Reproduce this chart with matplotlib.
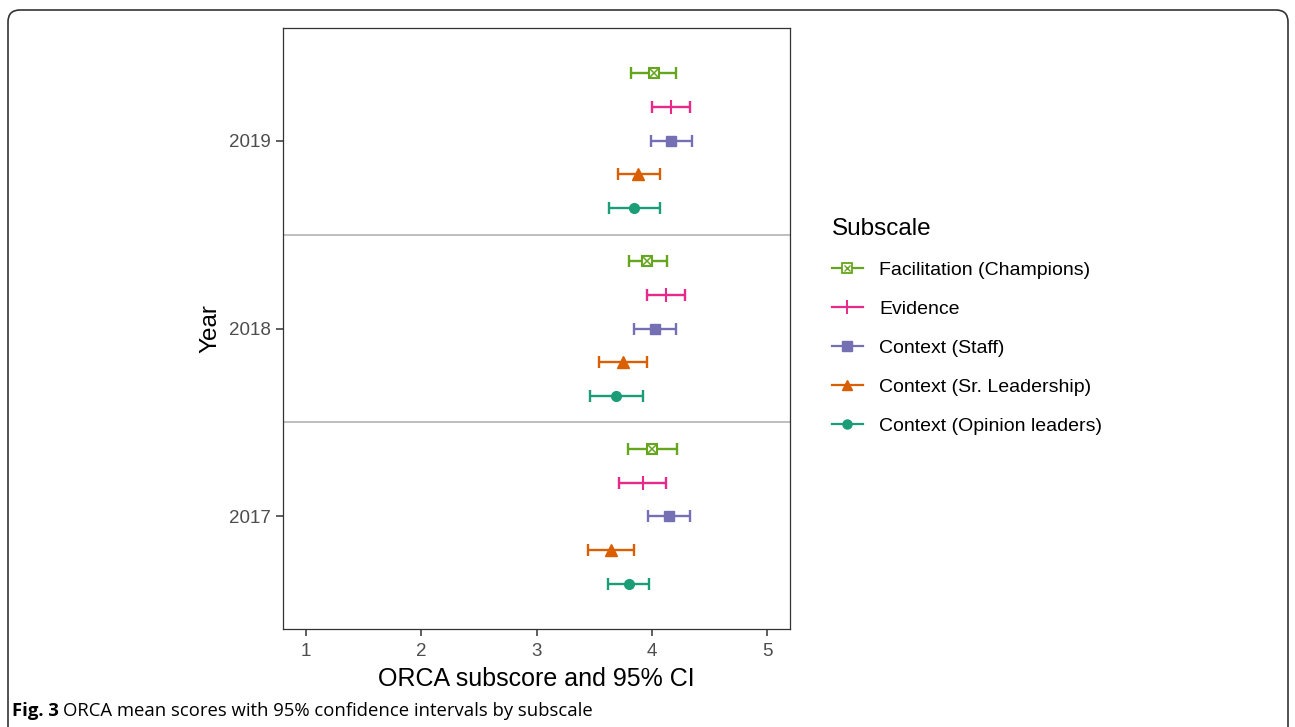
import matplotlib
matplotlib.use("Agg")
import matplotlib.pyplot as plt
import numpy as np
from matplotlib.lines import Line2D
from matplotlib.patches import FancyBboxPatch
from matplotlib.transforms import IdentityTransform

plt.rcParams['font.family'] = ['Liberation Sans', 'DejaVu Sans']

# --- DATA ---
years = [2017, 2018, 2019]
subscales = ["Facilitation (Champions)", "Evidence", "Context (Staff)",
             "Context (Sr. Leadership)", "Context (Opinion leaders)"]
colors = ["#66A61E", "#E7298A", "#7570B3", "#D95F02", "#1B9E77"]

# mean, lower, upper per subscale, ordered by years (2017, 2018, 2019)
facil_mean = [4.00, 3.96, 4.02]
facil_lo = [3.79, 3.80, 3.82]
facil_hi = [4.22, 4.13, 4.21]

evid_mean = [3.92, 4.12, 4.17]
evid_lo = [3.72, 3.955, 4.00]
evid_hi = [4.12, 4.29, 4.33]

staff_mean = [4.15, 4.03, 4.17]
staff_lo = [3.97, 3.85, 3.995]
staff_hi = [4.33, 4.21, 4.35]

sr_mean = [3.645, 3.75, 3.885]
sr_lo = [3.45, 3.54, 3.71]
sr_hi = [3.85, 3.96, 4.07]

opin_mean = [3.80, 3.69, 3.85]
opin_lo = [3.62, 3.46, 3.63]
opin_hi = [3.98, 3.92, 4.07]

means = [facil_mean, evid_mean, staff_mean, sr_mean, opin_mean]
lows = [facil_lo, evid_lo, staff_lo, sr_lo, opin_lo]
highs = [facil_hi, evid_hi, staff_hi, sr_hi, opin_hi]
offsets = [0.36, 0.18, 0.0, -0.18, -0.36]

fig = plt.figure(figsize=(12.95, 7.27), dpi=100)
ax = fig.add_axes([283 / 1295, 1 - 629 / 727, (790 - 283) / 1295, (629 - 28) / 727])

ax.axhline(2017.5, color="#BEBEBE", lw=1.4, zorder=1)
ax.axhline(2018.5, color="#BEBEBE", lw=1.4, zorder=1)

handles = []
for i in range(5):
    m = np.array(means[i])
    lo = np.array(lows[i])
    hi = np.array(highs[i])
    y = np.array(years) + offsets[i]
    ax.errorbar(m, y, xerr=[m - lo, hi - m], fmt="none", ecolor=colors[i],
                elinewidth=1.7, capsize=4.2, capthick=1.7, zorder=2)
    if i == 0:
        ax.plot(m, y, ls="none", marker="s", ms=7.5, mfc="white", mec=colors[i], mew=1.5, zorder=3)
        ax.plot(m, y, ls="none", marker="x", ms=5.5, mec=colors[i], mew=1.1, zorder=4)
        h = (Line2D([], [], color=colors[i], lw=1.6, marker="s", ms=6.5, mfc="white", mec=colors[i], mew=1.3),
             Line2D([], [], ls="none", marker="x", ms=4.5, mec=colors[i], mew=1.0))
    elif i == 1:
        ax.plot(m, y, ls="none", marker="|", ms=10, mec=colors[i], mew=1.5, zorder=3)
        h = Line2D([], [], color=colors[i], lw=1.6, marker="|", ms=10, mew=1.4)
    elif i == 2:
        ax.plot(m, y, ls="none", marker="s", ms=7, color=colors[i], zorder=3)
        h = Line2D([], [], color=colors[i], lw=1.6, marker="s", ms=6.5)
    elif i == 3:
        ax.plot(m, y, ls="none", marker="^", ms=8, color=colors[i], zorder=3)
        h = Line2D([], [], color=colors[i], lw=1.6, marker="^", ms=7.5)
    else:
        ax.plot(m, y, ls="none", marker="o", ms=7, color=colors[i], zorder=3)
        h = Line2D([], [], color=colors[i], lw=1.6, marker="o", ms=6.5)
    handles.append(h)

ax.set_xlim(0.8, 5.2)
ax.set_ylim(2016.4, 2019.6)
ax.set_xticks([1, 2, 3, 4, 5])
ax.set_yticks(years)
ax.set_yticklabels([str(y) for y in years])
ax.tick_params(colors="#333333", labelcolor="#4D4D4D", labelsize=13.5, length=5, width=1.1)
ax.tick_params(axis="x", pad=5)
for s in ax.spines.values():
    s.set_color("#333333")
    s.set_linewidth(0.9)
ax.set_xlabel("ORCA subscore and 95% CI", fontsize=18, labelpad=5)
ax.set_ylabel("Year", fontsize=17.5, labelpad=6)

leg = fig.legend(handles, subscales, loc="upper left",
                 bbox_to_anchor=(824 / 1295, 1 - 210 / 727), frameon=False,
                 title="Subscale", title_fontsize=17.5, fontsize=14,
                 alignment="left", handlelength=1.6, handletextpad=0.85,
                 labelspacing=1.1, borderaxespad=0)

# outer rounded frame
frame = FancyBboxPatch((8, -30), 1280, 727 - 10 + 30,
                       boxstyle="round,pad=0,rounding_size=12",
                       transform=IdentityTransform(), fill=False,
                       ec="#333333", lw=1.2)
fig.patches.append(frame)

# caption
t1 = fig.text(12 / 1295, 1 - 716 / 727, "Fig. 3", fontsize=13.3, fontweight="bold",
              family="Open Sans", va="baseline")
fig.canvas.draw()
bb = t1.get_window_extent()
fig.text((bb.x1 + 4) / 1295, 1 - 716 / 727,
         "ORCA mean scores with 95% confidence intervals by subscale",
         fontsize=13.3, family="Open Sans", va="baseline")

fig.savefig("out.png", dpi=100)
